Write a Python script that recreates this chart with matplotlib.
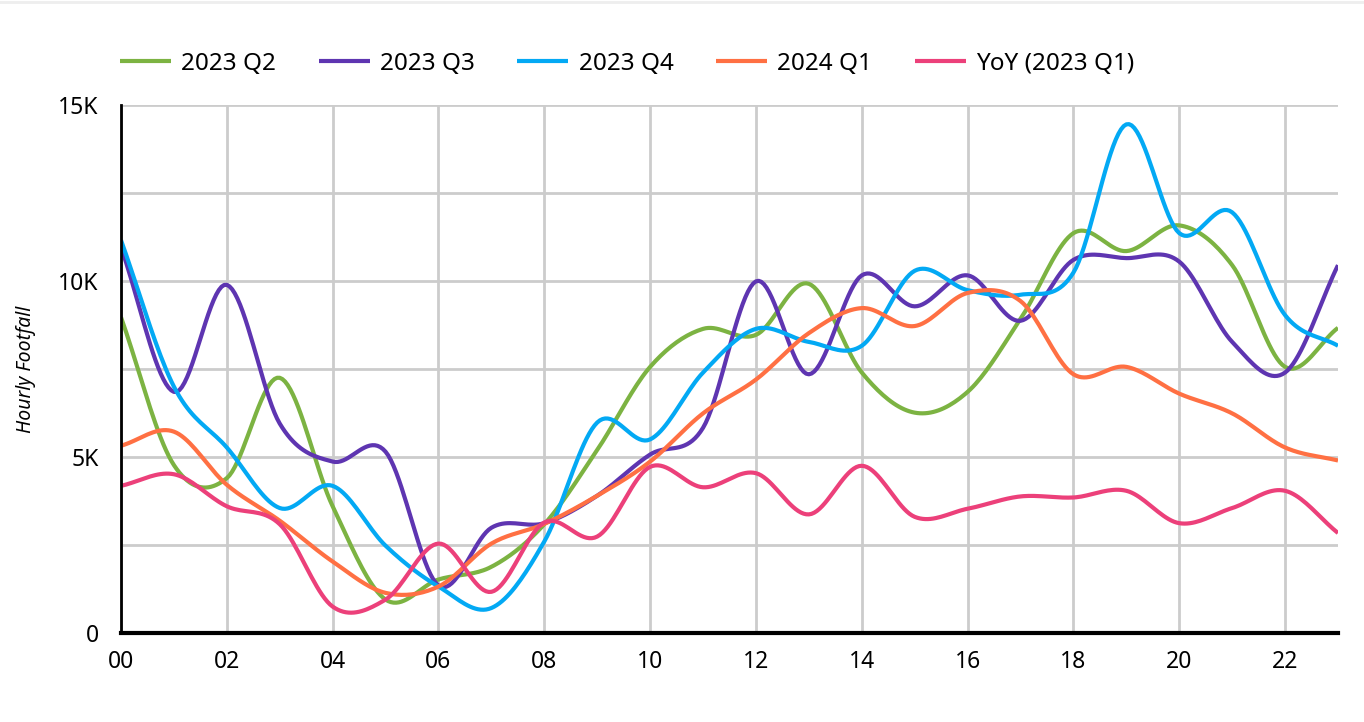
import numpy as np
import matplotlib
matplotlib.use('Agg')
import matplotlib.pyplot as plt
from matplotlib.ticker import MultipleLocator, FuncFormatter

plt.rcParams['font.family'] = ['Noto Sans', 'DejaVu Sans']

hours = np.arange(24)
hour_labels = ['%02d' % h for h in range(0, 24, 2)]

q2_2023 = [8.97, 4.77, 4.4, 7.25, 3.6, 0.95, 1.52, 1.88, 3.09, 5.2, 7.56, 8.64,
           8.47, 9.92, 7.4, 6.26, 6.85, 8.92, 11.36, 10.85, 11.58, 10.45, 7.56, 8.67]
q3_2023 = [10.95, 6.85, 9.89, 5.95, 4.87, 5.15, 1.35, 2.99, 3.12, 3.9, 5.07, 5.83,
           9.99, 7.35, 10.16, 9.28, 10.16, 8.87, 10.6, 10.65, 10.55, 8.27, 7.4, 10.45]
q4_2023 = [11.16, 7.0, 5.27, 3.55, 4.18, 2.48, 1.32, 0.71, 2.6, 5.98, 5.5, 7.4,
           8.64, 8.27, 8.16, 10.29, 9.74, 9.61, 10.24, 14.45, 11.36, 11.95, 9.03, 8.16]
q1_2024 = [5.32, 5.72, 4.21, 3.19, 2.03, 1.14, 1.32, 2.54, 3.1, 3.9, 4.87, 6.24,
           7.2, 8.52, 9.23, 8.72, 9.66, 9.43, 7.35, 7.56, 6.8, 6.24, 5.27, 4.9]
yoy_q1_2023 = [4.18, 4.51, 3.6, 3.09, 0.75, 0.95, 2.54, 1.17, 3.14, 2.74, 4.72, 4.14,
               4.54, 3.37, 4.75, 3.3, 3.53, 3.88, 3.85, 4.04, 3.12, 3.55, 4.04, 2.84]

series = [
    ('2023 Q2', q2_2023, '#7cb342'),
    ('2023 Q3', q3_2023, '#5e35b1'),
    ('2023 Q4', q4_2023, '#03a9f4'),
    ('2024 Q1', q1_2024, '#ff7043'),
    ('YoY (2023 Q1)', yoy_q1_2023, '#ec407a'),
]


def smooth(x, y, n=20):
    # catmull-rom through the hourly points
    x = np.asarray(x, float)
    y = np.asarray(y, float)
    px = np.concatenate([[2 * x[0] - x[1]], x, [2 * x[-1] - x[-2]]])
    py = np.concatenate([[2 * y[0] - y[1]], y, [2 * y[-1] - y[-2]]])
    xs, ys = [], []
    t = np.linspace(0, 1, n, endpoint=False)
    for i in range(1, len(px) - 2):
        for p, out in ((px, xs), (py, ys)):
            p0, p1, p2, p3 = p[i - 1], p[i], p[i + 1], p[i + 2]
            out.append(0.5 * (2 * p1 + (-p0 + p2) * t + (2 * p0 - 5 * p1 + 4 * p2 - p3) * t ** 2
                              + (-p0 + 3 * p1 - 3 * p2 + p3) * t ** 3))
    xs.append([x[-1]])
    ys.append([y[-1]])
    return np.concatenate(xs), np.concatenate(ys)


fig = plt.figure(figsize=(13.64, 7.22), dpi=100)
ax = fig.add_axes([121 / 1364, 1 - 633 / 722, (1338 - 121) / 1364, (633 - 105) / 722])

for name, vals, color in series:
    sx, sy = smooth(hours, np.array(vals) * 1000)
    ax.plot(sx, sy, color=color, lw=3, label=name, solid_capstyle='butt', zorder=3)

ax.set_xlim(0, 23)
ax.set_ylim(0, 15000)
ax.set_xticks(range(0, 24, 2))
ax.set_xticklabels(hour_labels)
ax.yaxis.set_major_locator(MultipleLocator(5000))
ax.yaxis.set_minor_locator(MultipleLocator(2500))
ax.yaxis.set_major_formatter(FuncFormatter(lambda v, p: '0' if v == 0 else '%dK' % (v / 1000)))
ax.grid(True, which='both', axis='y', color='#cccccc', lw=2)
ax.grid(True, which='major', axis='x', color='#cccccc', lw=2)
ax.set_axisbelow(True)
ax.tick_params(axis='both', which='both', length=0, labelsize=16.5)
ax.tick_params(axis='x', pad=12)
ax.tick_params(axis='y', pad=16)
for s in ['top', 'right']:
    ax.spines[s].set_visible(False)
ax.spines['left'].set_linewidth(2)
ax.spines['bottom'].set_linewidth(3)
ax.spines['left'].set_zorder(4)
ax.spines['bottom'].set_zorder(4)
ax.set_ylabel('Hourly Footfall', fontsize=14, style='italic', labelpad=16)

fig.legend(loc='center left', bbox_to_anchor=(0.072, 0.912), ncol=5, frameon=False,
           fontsize=17.5, handlelength=2.1, columnspacing=1.75, handletextpad=0.42)

fig.add_artist(plt.Line2D([0, 1], [0.997, 0.997], color='#eeeeee', lw=2))

fig.savefig('out.png', dpi=100)
